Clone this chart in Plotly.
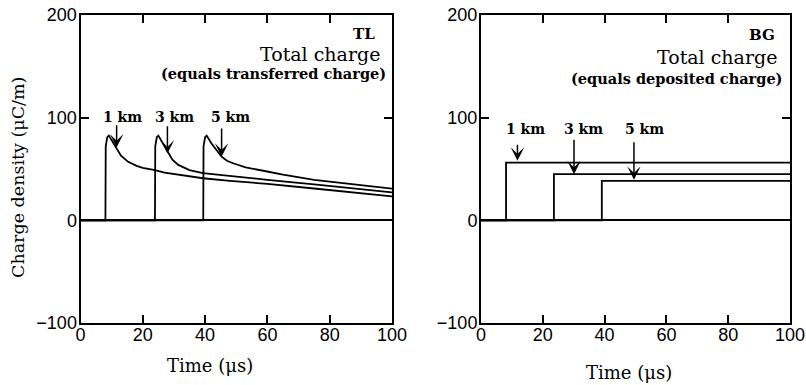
import plotly.graph_objects as go
from plotly.subplots import make_subplots

# ---------------- data ----------------
# TL model: total charge density vs time at three heights
tl_1km_t = [0, 8.0, 8.1, 8.6, 9.1, 10.0, 11.6, 13.0, 15.3, 18.0, 20.0, 23.9, 27.0, 31.4, 39.3, 48.0, 60.0, 75.0, 90.0, 100.0]
tl_1km_q = [0, 0, 72, 81, 82.5, 78, 71, 63, 57, 53, 51, 49, 46.5, 44.4, 41, 38.5, 35.5, 31, 26.5, 23.3]

tl_3km_t = [0, 23.9, 24.0, 24.5, 25.0, 26.0, 27.9, 29.5, 31.4, 35.0, 39.3, 48.0, 60.0, 75.0, 90.0, 100.0]
tl_3km_q = [0, 0, 72, 81, 82.5, 77, 67, 59, 54, 49, 46, 43, 39.5, 35, 30, 27.2]

tl_5km_t = [0, 39.4, 39.5, 40.0, 40.5, 42.0, 45.3, 47.0, 49.0, 53.0, 58.7, 65.0, 75.0, 90.0, 100.0]
tl_5km_q = [0, 0, 72, 81, 82.5, 75, 62, 58, 55.6, 51.5, 48.3, 44.5, 39.5, 34.5, 30.8]

# BG model: step functions (onset time, level)
bg_onsets = [8.1, 23.6, 39.1]
bg_levels = [56.3, 45.0, 38.5]

heights = ["1 km", "3 km", "5 km"]

# arrow annotations: label position, arrow tip and tail (data units)
tl_label_t = [13.5, 30.3, 48.2]
tl_label_q = [101, 101, 101]
tl_arrow_t = [11.6, 27.9, 45.3]
tl_arrow_tail_q = [94, 93, 91]
tl_arrow_tip_q = [71, 65, 62]

bg_label_t = [14.4, 33.2, 53.0]
bg_label_q = [89, 89, 89]
bg_arrow_t = [11.8, 30.1, 49.5]
bg_arrow_tail_q = [75, 80, 77.4]
bg_arrow_tip_q = [58, 45, 39.5]

x_ticks = [0, 20, 40, 60, 80, 100]
y_ticks = [-100, 0, 100, 200]

# ---------------- figure ----------------
fig = make_subplots(rows=1, cols=2)

line = dict(color="black", width=1.8)
for t, q in [(tl_1km_t, tl_1km_q), (tl_3km_t, tl_3km_q), (tl_5km_t, tl_5km_q)]:
    fig.add_trace(go.Scatter(x=t, y=q, mode="lines", line=line, showlegend=False), row=1, col=1)

for t0, lvl in zip(bg_onsets, bg_levels):
    fig.add_trace(go.Scatter(x=[0, t0, t0, 100], y=[0, 0, lvl, lvl], mode="lines",
                             line=line, showlegend=False), row=1, col=2)

axis_common = dict(
    showline=True, mirror="ticks", linecolor="black", linewidth=2,
    ticks="inside", ticklen=8, tickwidth=1.5, tickcolor="black",
    showgrid=False, zeroline=False, automargin=False,
    tickfont=dict(family="Liberation Sans, Arial, sans-serif", size=18, color="black"),
)

fig.update_layout(
    width=806, height=385, margin=dict(l=0, r=0, t=0, b=0, autoexpand=False),
    paper_bgcolor="white", plot_bgcolor="white",
    xaxis=dict(domain=[80.5 / 806, 392 / 806], range=[0, 100], tickvals=x_ticks, ticklabelstandoff=-6, **axis_common),
    xaxis2=dict(domain=[481 / 806, 790 / 806], range=[0, 100], tickvals=x_ticks, ticklabelstandoff=-6, **axis_common),
    yaxis=dict(domain=[62 / 385, 370 / 385], range=[-100, 200], tickvals=y_ticks, ticklabelstandoff=-2, **axis_common),
    yaxis2=dict(domain=[62 / 385, 370 / 385], range=[-100, 200], tickvals=y_ticks, ticklabelstandoff=-2, **axis_common),
)
for ax in ["yaxis", "yaxis2"]:
    fig.layout[ax].update(zeroline=True, zerolinecolor="black", zerolinewidth=1.8)

serif = "DejaVu Serif, serif"
ann = []

def txt(xref, yref, x, y, text, size, xanchor="right", bold=False):
    ann.append(dict(xref=xref, yref=yref, x=x, y=y, text=("<b>%s</b>" % text) if bold else text,
                    showarrow=False, xanchor=xanchor, yanchor="middle",
                    font=dict(family=serif, size=size, color="black")))

# panel headings
txt("x", "y", 95.1, 181.8, "TL", 15, bold=True)
txt("x", "y", 96.9, 162.4, "Total charge", 19)
txt("x", "y", 98.6, 143, "(equals transferred charge)", 14.5, bold=True)
txt("x2", "y2", 95.7, 180.6, "BG", 15, bold=True)
txt("x2", "y2", 96.6, 159, "Total charge", 19)
txt("x2", "y2", 98.0, 138, "(equals deposited charge)", 14.5, bold=True)

# height labels and arrows
for i, h in enumerate(heights):
    txt("x", "y", tl_label_t[i], tl_label_q[i], h, 14, xanchor="center", bold=True)
    ann.append(dict(xref="x", yref="y", axref="x", ayref="y",
                    x=tl_arrow_t[i], y=tl_arrow_tip_q[i], ax=tl_arrow_t[i], ay=tl_arrow_tail_q[i],
                    text="", showarrow=True, arrowhead=3, arrowsize=1.5, arrowwidth=1.5, arrowcolor="black"))
    txt("x2", "y2", bg_label_t[i], bg_label_q[i], h, 14, xanchor="center", bold=True)
    ann.append(dict(xref="x2", yref="y2", axref="x2", ayref="y2",
                    x=bg_arrow_t[i], y=bg_arrow_tip_q[i], ax=bg_arrow_t[i], ay=bg_arrow_tail_q[i],
                    text="", showarrow=True, arrowhead=3, arrowsize=1.5, arrowwidth=1.5, arrowcolor="black"))

# axis titles
ann.append(dict(xref="paper", yref="paper", x=17.5 / 806, y=1 - 177.5 / 385, text="Charge density (\u03bcC/m)",
                textangle=-90, showarrow=False, xanchor="center", yanchor="middle",
                font=dict(family=serif, size=17.5, color="black")))
ann.append(dict(xref="paper", yref="paper", x=210 / 806, y=1 - 365 / 385, text="Time (\u03bcs)",
                showarrow=False, xanchor="center", yanchor="middle",
                font=dict(family=serif, size=18, color="black")))
ann.append(dict(xref="paper", yref="paper", x=629 / 806, y=1 - 372 / 385, text="Time (\u03bcs)",
                showarrow=False, xanchor="center", yanchor="middle",
                font=dict(family=serif, size=18, color="black")))

fig.update_layout(annotations=ann)
fig.write_html("out.html")
